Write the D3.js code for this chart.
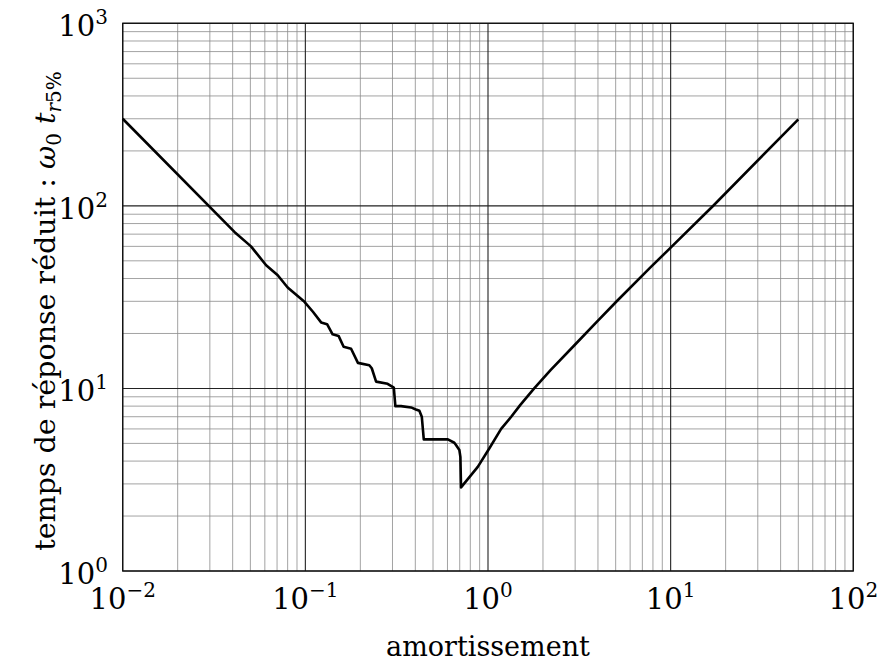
<!DOCTYPE html>
<html>
<head>
<meta charset="utf-8">
<script src="https://cdn.jsdelivr.net/npm/d3@7"></script>
<style>
  body { margin: 0; background: #fff; }
</style>
</head>
<body>
<div id="chart"></div>
<script>
// damping ratio (amortissement)
var zeta = [0.01, 0.0409, 0.0504, 0.061, 0.0706, 0.080, 0.0989, 0.110, 0.122, 0.1315,
  0.141, 0.152, 0.162, 0.178, 0.194, 0.224, 0.231, 0.244, 0.282, 0.305,
  0.311, 0.334, 0.379, 0.403, 0.421, 0.434, 0.445, 0.577, 0.603, 0.654, 0.668,
  0.697, 0.706, 0.712, 0.879, 1.016, 1.18, 1.34, 1.5, 1.79, 2.2, 3.0, 4.0, 5.13, 7.8, 10.1, 17.0, 50];
// reduced response time w0 * t_r5%
var tr = [300, 72, 60, 47.3, 41.7, 35.7, 29.8, 26.3, 23.0, 22.5,
  19.8, 19.4, 16.9, 16.5, 13.8, 13.4, 12.9, 10.9, 10.6, 10.1,
  8.0, 8.0, 7.87, 7.67, 7.54, 7.0, 5.26, 5.27, 5.26, 5.04, 4.9,
  4.6, 4.22, 2.87, 3.72, 4.69, 6.0, 7.0, 8.1, 10.0, 12.6, 17.4, 23.5, 30.4, 46.3, 59.6, 99.5, 298];

var xDecades = [-2, -1, 0, 1, 2];
var yDecades = [0, 1, 2, 3];
var xTitle = "amortissement";

var serif = "'DejaVu Serif', serif";
var width = 877, height = 664;
var x = d3.scaleLog().domain([0.01, 100]).range([122.7, 853.3]);
var y = d3.scaleLog().domain([1, 1000]).range([571, 23.3]);

var svg = d3.select("#chart").append("svg")
  .attr("width", width)
  .attr("height", height)
  .attr("font-family", serif);

// minor grid
var minorX = [], minorY = [];
for (var e = -2; e < 2; e++) for (var m = 2; m <= 9; m++) minorX.push(m * Math.pow(10, e));
for (var e2 = 0; e2 < 3; e2++) for (var m2 = 2; m2 <= 9; m2++) minorY.push(m2 * Math.pow(10, e2));

var grid = svg.append("g");
grid.selectAll(".mx").data(minorX).enter().append("line")
  .attr("x1", function (d) { return x(d); })
  .attr("x2", function (d) { return x(d); })
  .attr("y1", y(1)).attr("y2", y(1000))
  .style("stroke", "#8c8c8c").style("stroke-width", 0.8);
grid.selectAll(".my").data(minorY).enter().append("line")
  .attr("y1", function (d) { return y(d); })
  .attr("y2", function (d) { return y(d); })
  .attr("x1", x(0.01)).attr("x2", x(100))
  .style("stroke", "#8c8c8c").style("stroke-width", 0.8);

// major grid
grid.selectAll(".Mx").data(xDecades).enter().append("line")
  .attr("x1", function (d) { return x(Math.pow(10, d)); })
  .attr("x2", function (d) { return x(Math.pow(10, d)); })
  .attr("y1", y(1)).attr("y2", y(1000))
  .style("stroke", "#222").style("stroke-width", 1.1);
grid.selectAll(".My").data(yDecades).enter().append("line")
  .attr("y1", function (d) { return y(Math.pow(10, d)); })
  .attr("y2", function (d) { return y(Math.pow(10, d)); })
  .attr("x1", x(0.01)).attr("x2", x(100))
  .style("stroke", "#222").style("stroke-width", 1.1);

// frame
svg.append("rect")
  .attr("x", x(0.01)).attr("y", y(1000))
  .attr("width", x(100) - x(0.01)).attr("height", y(1) - y(1000))
  .style("fill", "none").style("stroke", "#111").style("stroke-width", 1.3);

// curve
var pts = zeta.map(function (z, i) { return [z, tr[i]]; });
svg.append("path")
  .datum(pts)
  .attr("d", d3.line().x(function (d) { return x(d[0]); }).y(function (d) { return y(d[1]); }))
  .style("fill", "none").style("stroke", "#000").style("stroke-width", 2.6)
  .style("stroke-linejoin", "round");

// tick labels
function powLabel(sel, exp) {
  sel.append("tspan").text("10").style("font-size", "29px");
  sel.append("tspan").attr("dy", -12).style("font-size", "20px")
    .text(exp < 0 ? "\u2212" + (-exp) : String(exp));
}

svg.selectAll(".xl").data(xDecades).enter().append("text")
  .attr("x", function (d) { return x(Math.pow(10, d)); })
  .attr("y", 609)
  .attr("text-anchor", "middle")
  .style("font-family", serif)
  .each(function (d) { powLabel(d3.select(this), d); });

svg.selectAll(".yl").data(yDecades).enter().append("text")
  .attr("x", 108)
  .attr("y", function (d) { return y(Math.pow(10, d)) + 13; })
  .attr("text-anchor", "end")
  .style("font-family", serif)
  .each(function (d) { powLabel(d3.select(this), d); });

// axis titles
svg.append("text")
  .attr("x", 488).attr("y", 656)
  .attr("text-anchor", "middle")
  .style("font-family", serif)
  .style("font-size", "27px")
  .text(xTitle);

var yt = svg.append("text")
  .attr("transform", "translate(55,311) rotate(-90)")
  .attr("text-anchor", "middle")
  .style("font-family", serif)
  .style("font-size", "28.5px");
yt.append("tspan").text("temps de r\u00e9ponse r\u00e9duit : ");
yt.append("tspan").style("font-style", "italic").text("\u03c9");
yt.append("tspan").attr("dy", 6).style("font-size", "20px").text("0");
yt.append("tspan").attr("dy", -6).text(" ");
yt.append("tspan").style("font-style", "italic").text("t");
yt.append("tspan").attr("dy", 6).style("font-size", "20px").style("font-style", "italic").text("r");
yt.append("tspan").style("font-size", "20px").text("5%");
</script>
</body>
</html>
